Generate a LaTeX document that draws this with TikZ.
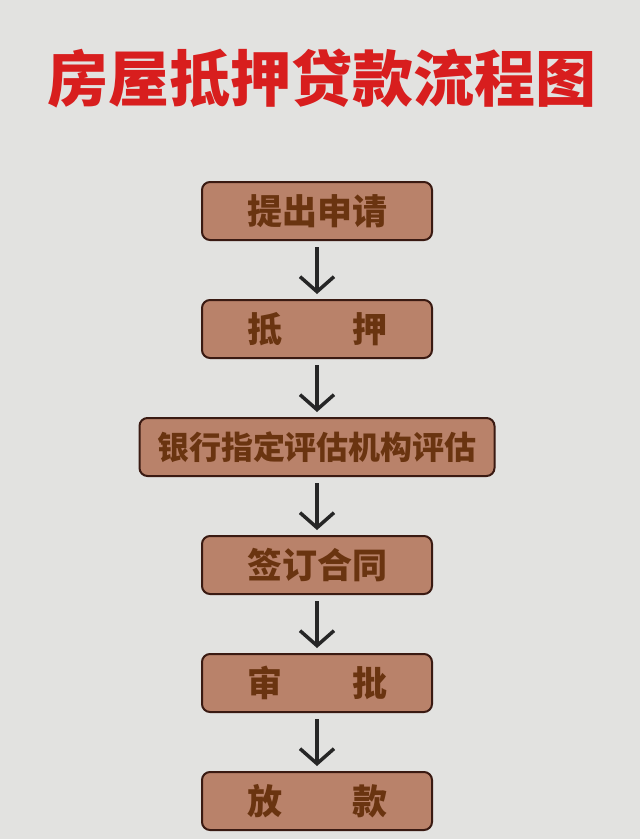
\documentclass[tikz,border=0pt]{standalone}
\usepackage{fontspec}
\usepackage{xcolor}
\usetikzlibrary{positioning,arrows.meta}
\newfontfamily\cjk{Noto Sans CJK SC}[BoldFont={* Black}]
\definecolor{loanbg}{HTML}{E2E2E0}
\definecolor{loanred}{HTML}{D81E1E}
\definecolor{loanfill}{HTML}{B9826A}
\definecolor{loanline}{HTML}{3A1A12}
\definecolor{loantext}{HTML}{6A3410}

\begin{document}
\begin{tikzpicture}[x=1pt,y=-1pt,
    stepbox/.style={draw=loanline, line width=2pt, fill=loanfill,
      rounded corners=8pt, minimum width=230pt, minimum height=58pt,
      inner sep=0pt, text=loantext, font=\cjk\bfseries\fontsize{35}{35}\selectfont},
    flow/.style={line width=3.5pt, draw=black!85,
      -{Straight Barb[length=15pt,width=34pt,line width=3.5pt]}}]
  % background and title
  \fill[loanbg] (0,0) rectangle (640,839);
  \useasboundingbox (0,0) rectangle (640,839);
  \node[text=loanred, font=\cjk\bfseries\fontsize{61}{61}\selectfont] (title) at (322,78) {房屋抵押贷款流程图};
  % steps
  \node[stepbox] (apply) at (317,211) {提出申请};
  \node[stepbox, below=58pt of apply] (pledge) {抵\hspace{2em}押};
  \node[stepbox, below=58pt of pledge, minimum width=355pt,
    font=\cjk\bfseries\fontsize{32}{32}\selectfont] (assess) {银行指定评估机构评估};
  \node[stepbox, below=58pt of assess] (sign) {签订合同};
  \node[stepbox, below=58pt of sign] (approve) {审\hspace{2em}批};
  \node[stepbox, below=58pt of approve] (lend) {放\hspace{2em}款};
  % arrows
  \foreach \a/\b in {apply/pledge, pledge/assess, assess/sign, sign/approve, approve/lend}
    \draw[flow] ([yshift=-6pt]\a.south) -- ([yshift=5pt]\b.north);
\end{tikzpicture}
\end{document}
